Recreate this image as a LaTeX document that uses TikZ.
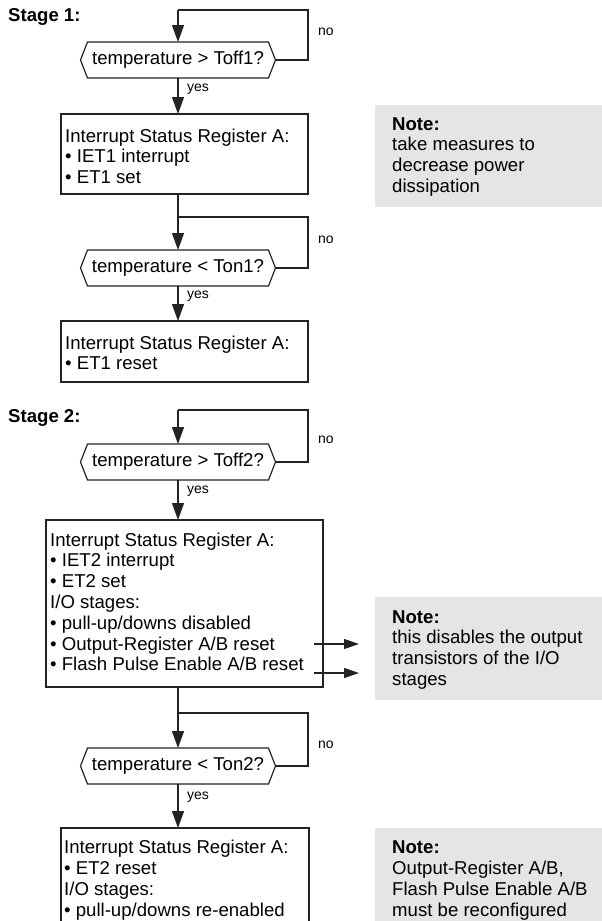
\documentclass[tikz,border=0pt]{standalone}
\usepackage{fontspec}
\setmainfont{Liberation Sans}
\usetikzlibrary{arrows.meta}
\definecolor{notegray}{RGB}{229,229,229}
\definecolor{ln}{RGB}{35,35,35}
\newcommand\hexoutline[1]{\draw[line] ([xshift=7pt]#1.north west) -- ([xshift=-7pt]#1.north east) -- (#1.east) -- ([xshift=-7pt]#1.south east) -- ([xshift=7pt]#1.south west) -- (#1.west) -- cycle;}
\begin{document}
\begin{tikzpicture}[x=1pt,y=-1pt,
 line/.style={draw=ln, line width=1.2pt},
 arr/.style={line, -{Triangle[length=17pt,width=12pt]}},
 sarr/.style={line, -{Triangle[length=15pt,width=10pt]}},
 hexnode/.style={minimum width=195pt, minimum height=36pt, inner sep=0pt, outer sep=0pt, font=\fontsize{18.6}{20.8}\selectfont},
 boxnode/.style={draw=ln, line width=1.2pt, anchor=north west, inner sep=0pt, outer sep=0pt},
 txt/.style={anchor=north west, align=left, inner sep=0pt, font=\fontsize{18.6}{20.8}\selectfont},
 lbl/.style={font=\fontsize{14}{16}\selectfont, inner sep=0pt, anchor=west},
 stagelbl/.style={font=\bfseries\fontsize{18.6}{20.8}\selectfont, anchor=base west, inner sep=0pt},
 notebox/.style={fill=notegray, anchor=north west, inner sep=0pt, outer sep=0pt},
]
\useasboundingbox (0,0) rectangle (602,921);
\clip (0,0) rectangle (602,921);

% notes
\node[notebox, minimum width=227pt, minimum height=102pt] (n1) at (375,105) {};
\node[notebox, minimum width=227pt, minimum height=103pt] (n2) at (375,597) {};
\node[notebox, minimum width=227pt, minimum height=130pt] (n3) at (375,828) {};
\node[txt] (nt1) at (392,115.4) {\strut\textbf{Note:}\\take measures to\\decrease power\\dissipation};
\node[txt] (nt2) at (392,608.4) {\strut\textbf{Note:}\\this disables the output\\transistors of the I/O\\stages};
\node[txt] (nt3) at (392,839) {\strut\textbf{Note:}\\Output-Register A/B,\\Flash Pulse Enable A/B\\must be reconfigured};

% stage labels
\node[stagelbl] (s1) at (8,21) {Stage 1:};
\node[stagelbl] (s2) at (8,422) {Stage 2:};

% hexagons
\node[hexnode] (h1) at (178,60) {temperature > Toff1?};
\node[hexnode] (h2) at (178,268) {temperature < Ton1?};
\node[hexnode] (h3) at (178,462) {temperature > Toff2?};
\node[hexnode] (h4) at (178,766) {temperature < Ton2?};
\hexoutline{h1}
\hexoutline{h2}
\hexoutline{h3}
\hexoutline{h4}

% boxes
\node[boxnode, minimum width=247pt, minimum height=80pt] (b1) at (61,114) {};
\node[boxnode, minimum width=247pt, minimum height=61pt] (b2) at (61,321) {};
\node[boxnode, minimum width=277pt, minimum height=167pt] (b3) at (46,520) {};
\node[boxnode, minimum width=248pt, minimum height=130pt] (b4) at (61,828) {};
\node[txt] (t1) at (65,127.4) {\strut Interrupt Status Register A:\\• IET1 interrupt\\• ET1 set};
\node[txt] (t2) at (65,334.4) {\strut Interrupt Status Register A:\\• ET1 reset};
\node[txt] (t3) at (50,531.4) {\strut Interrupt Status Register A:\\• IET2 interrupt\\• ET2 set\\I/O stages:\\• pull-up/downs disabled\\• Output-Register A/B reset\\• Flash Pulse Enable A/B reset};
\node[txt] (t4) at (64,839) {\strut Interrupt Status Register A:\\• ET2 reset\\I/O stages:\\• pull-up/downs re-enabled};

% loop coordinates
\coordinate (l1) at (178,10);  \coordinate (r1) at (308,10);
\coordinate (l2) at (178,217); \coordinate (r2) at (308,217);
\coordinate (l3) at (178,410); \coordinate (r3) at (308,410);
\coordinate (l4) at (178,713); \coordinate (r4) at (308,713);

% loops
\draw[line] (h1.east) -| (r1) -- (l1);
\draw[arr] (l1) -- (h1.north);
\draw[line] (l2 |- b1.south) -- (l2);
\draw[line] (h2.east) -| (r2) -- (l2);
\draw[arr] (l2) -- (h2.north);
\draw[line] (h3.east) -| (r3) -- (l3);
\draw[arr] (l3) -- (h3.north);
\draw[line] (l4 |- b3.south) -- (l4);
\draw[line] (h4.east) -| (r4) -- (l4);
\draw[arr] (l4) -- (h4.north);

% yes arrows
\draw[arr] (h1.south) -- (h1.south |- b1.north);
\draw[arr] (h2.south) -- (h2.south |- b2.north);
\draw[arr] (h3.south) -- (h3.south |- b3.north);
\draw[arr] (h4.south) -- (h4.south |- b4.north);

% labels
\node[lbl] (no1) at (318,32) {no};
\node[lbl] (no2) at (318,240) {no};
\node[lbl] (no3) at (318,440) {no};
\node[lbl] (no4) at (318,745) {no};
\node[lbl] (y1) at (187,89) {yes};
\node[lbl] (y2) at (187,296) {yes};
\node[lbl] (y3) at (187,491) {yes};
\node[lbl] (y4) at (187,797) {yes};

% side arrows
\coordinate (o1) at (314,644); \coordinate (e1) at (359,644);
\coordinate (o2) at (314,673); \coordinate (e2) at (359,673);
\draw[sarr] (o1) -- (e1);
\draw[sarr] (o2) -- (e2);
\end{tikzpicture}
\end{document}
